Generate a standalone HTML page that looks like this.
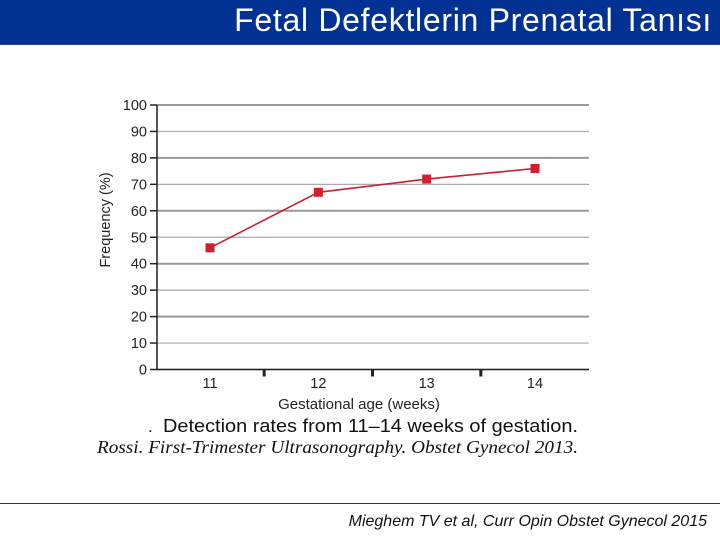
<!DOCTYPE html>
<html><head><meta charset="utf-8"><style>
body{margin:0;width:720px;height:540px;overflow:hidden;background:#fff;font-family:"Liberation Sans",sans-serif;position:relative}
#hdr{position:absolute;left:0;top:0;width:720px;height:44px;background:#023194;border-bottom:1px solid #2a3c8a}
#title{position:absolute;right:8px;top:2px;color:#fff;font-size:32px;letter-spacing:0.7px;white-space:nowrap}
#rule{position:absolute;left:0;top:503px;width:720px;height:1px;background:#333}
#cite{position:absolute;right:13px;top:513px;font-size:16px;font-style:italic;color:#111}
svg{position:absolute;left:0;top:0}
</style></head><body>
<div id="hdr"><div id="title">Fetal Defektlerin Prenatal Tanısı</div></div>
<svg id="chart" width="720" height="540"></svg>
<div id="rule"></div>
<div id="cite">Mieghem TV et al, Curr Opin Obstet Gynecol 2015</div>
<script>
const categories=["11","12","13","14"];
const values=[46,67,72,76];
const yTicks=[0,10,20,30,40,50,60,70,80,90,100];
const NS="http://www.w3.org/2000/svg";
const svg=document.getElementById('chart');
const X0=157,X1=589,Y0=369.5,Y100=105;
const y=v=>Y0+(Y100-Y0)*v/100;
const XF=210,XL=535;
const x=i=>XF+i*((XL-XF)/(categories.length-1));
function mk(t,a,p){const e=document.createElementNS(NS,t);for(const k in a)e.setAttribute(k,a[k]);(p||svg).appendChild(e);return e;}
yTicks.forEach(v=>{
  const g=mk('line',{x1:X0,x2:X1,y1:y(v),y2:y(v),stroke:v%20===0&&v>0?'#999':'#aaa','stroke-width':v===0?1.5:(v%20===0?2:1.2)});
  
  
  const tk=mk('line',{x1:X0-7,x2:X0,y1:y(v),y2:y(v),stroke:'#222','stroke-width':1.5});
  
  
  const t=mk('text',{x:X0-10,y:y(v)+5,'text-anchor':'end','font-size':14.5,fill:'#222'});
  t.textContent=v;
  
  
});
const ax=mk('line',{x1:X0,x2:X0,y1:y(100),y2:Y0,stroke:'#222','stroke-width':1.5});


const bx=mk('line',{x1:X0,x2:X1,y1:Y0,y2:Y0,stroke:'#222','stroke-width':1.5});


for(let i=0;i<categories.length-1;i++){
  const m=(x(i)+x(i+1))/2;
  const tk=mk('line',{x1:m,x2:m,y1:Y0,y2:Y0+7,stroke:'#222','stroke-width':3});
  
  
}
categories.forEach((c,i)=>{
  const t=mk('text',{x:x(i),y:388,'text-anchor':'middle','font-size':14.5,fill:'#222'});
  t.textContent=c;
  
  
});
const pl=mk('polyline',{points:values.map((v,i)=>x(i)+','+y(v)).join(' '),fill:'none',stroke:'#c8202e','stroke-width':1.6});


values.forEach((v,i)=>{
  const r=mk('rect',{x:x(i)-4.5,y:y(v)-4.5,width:9,height:9,fill:'#d21f30'});
  
  
});
const yl=mk('text',{x:0,y:0,transform:'translate(110,220) rotate(-90)','text-anchor':'middle','font-size':14.5,fill:'#222'});
yl.textContent='Frequency (%)';


const xl=mk('text',{x:359,y:409,'text-anchor':'middle','font-size':15,fill:'#222'});
xl.textContent='Gestational age (weeks)';


const dot=mk('text',{x:148,y:432,'font-size':17,fill:'#111'});
dot.textContent='.';


const cap=mk('text',{x:163,y:432,'font-size':18,fill:'#111',textLength:415,lengthAdjust:'spacingAndGlyphs'});
cap.textContent='Detection rates from 11–14 weeks of gestation.';


const src=mk('text',{x:97,y:453,'font-size':18,fill:'#111','font-style':'italic','font-family':'Liberation Serif, serif',textLength:481,lengthAdjust:'spacingAndGlyphs'});
src.textContent='Rossi. First-Trimester Ultrasonography. Obstet Gynecol 2013.';


</script>
</body></html>
